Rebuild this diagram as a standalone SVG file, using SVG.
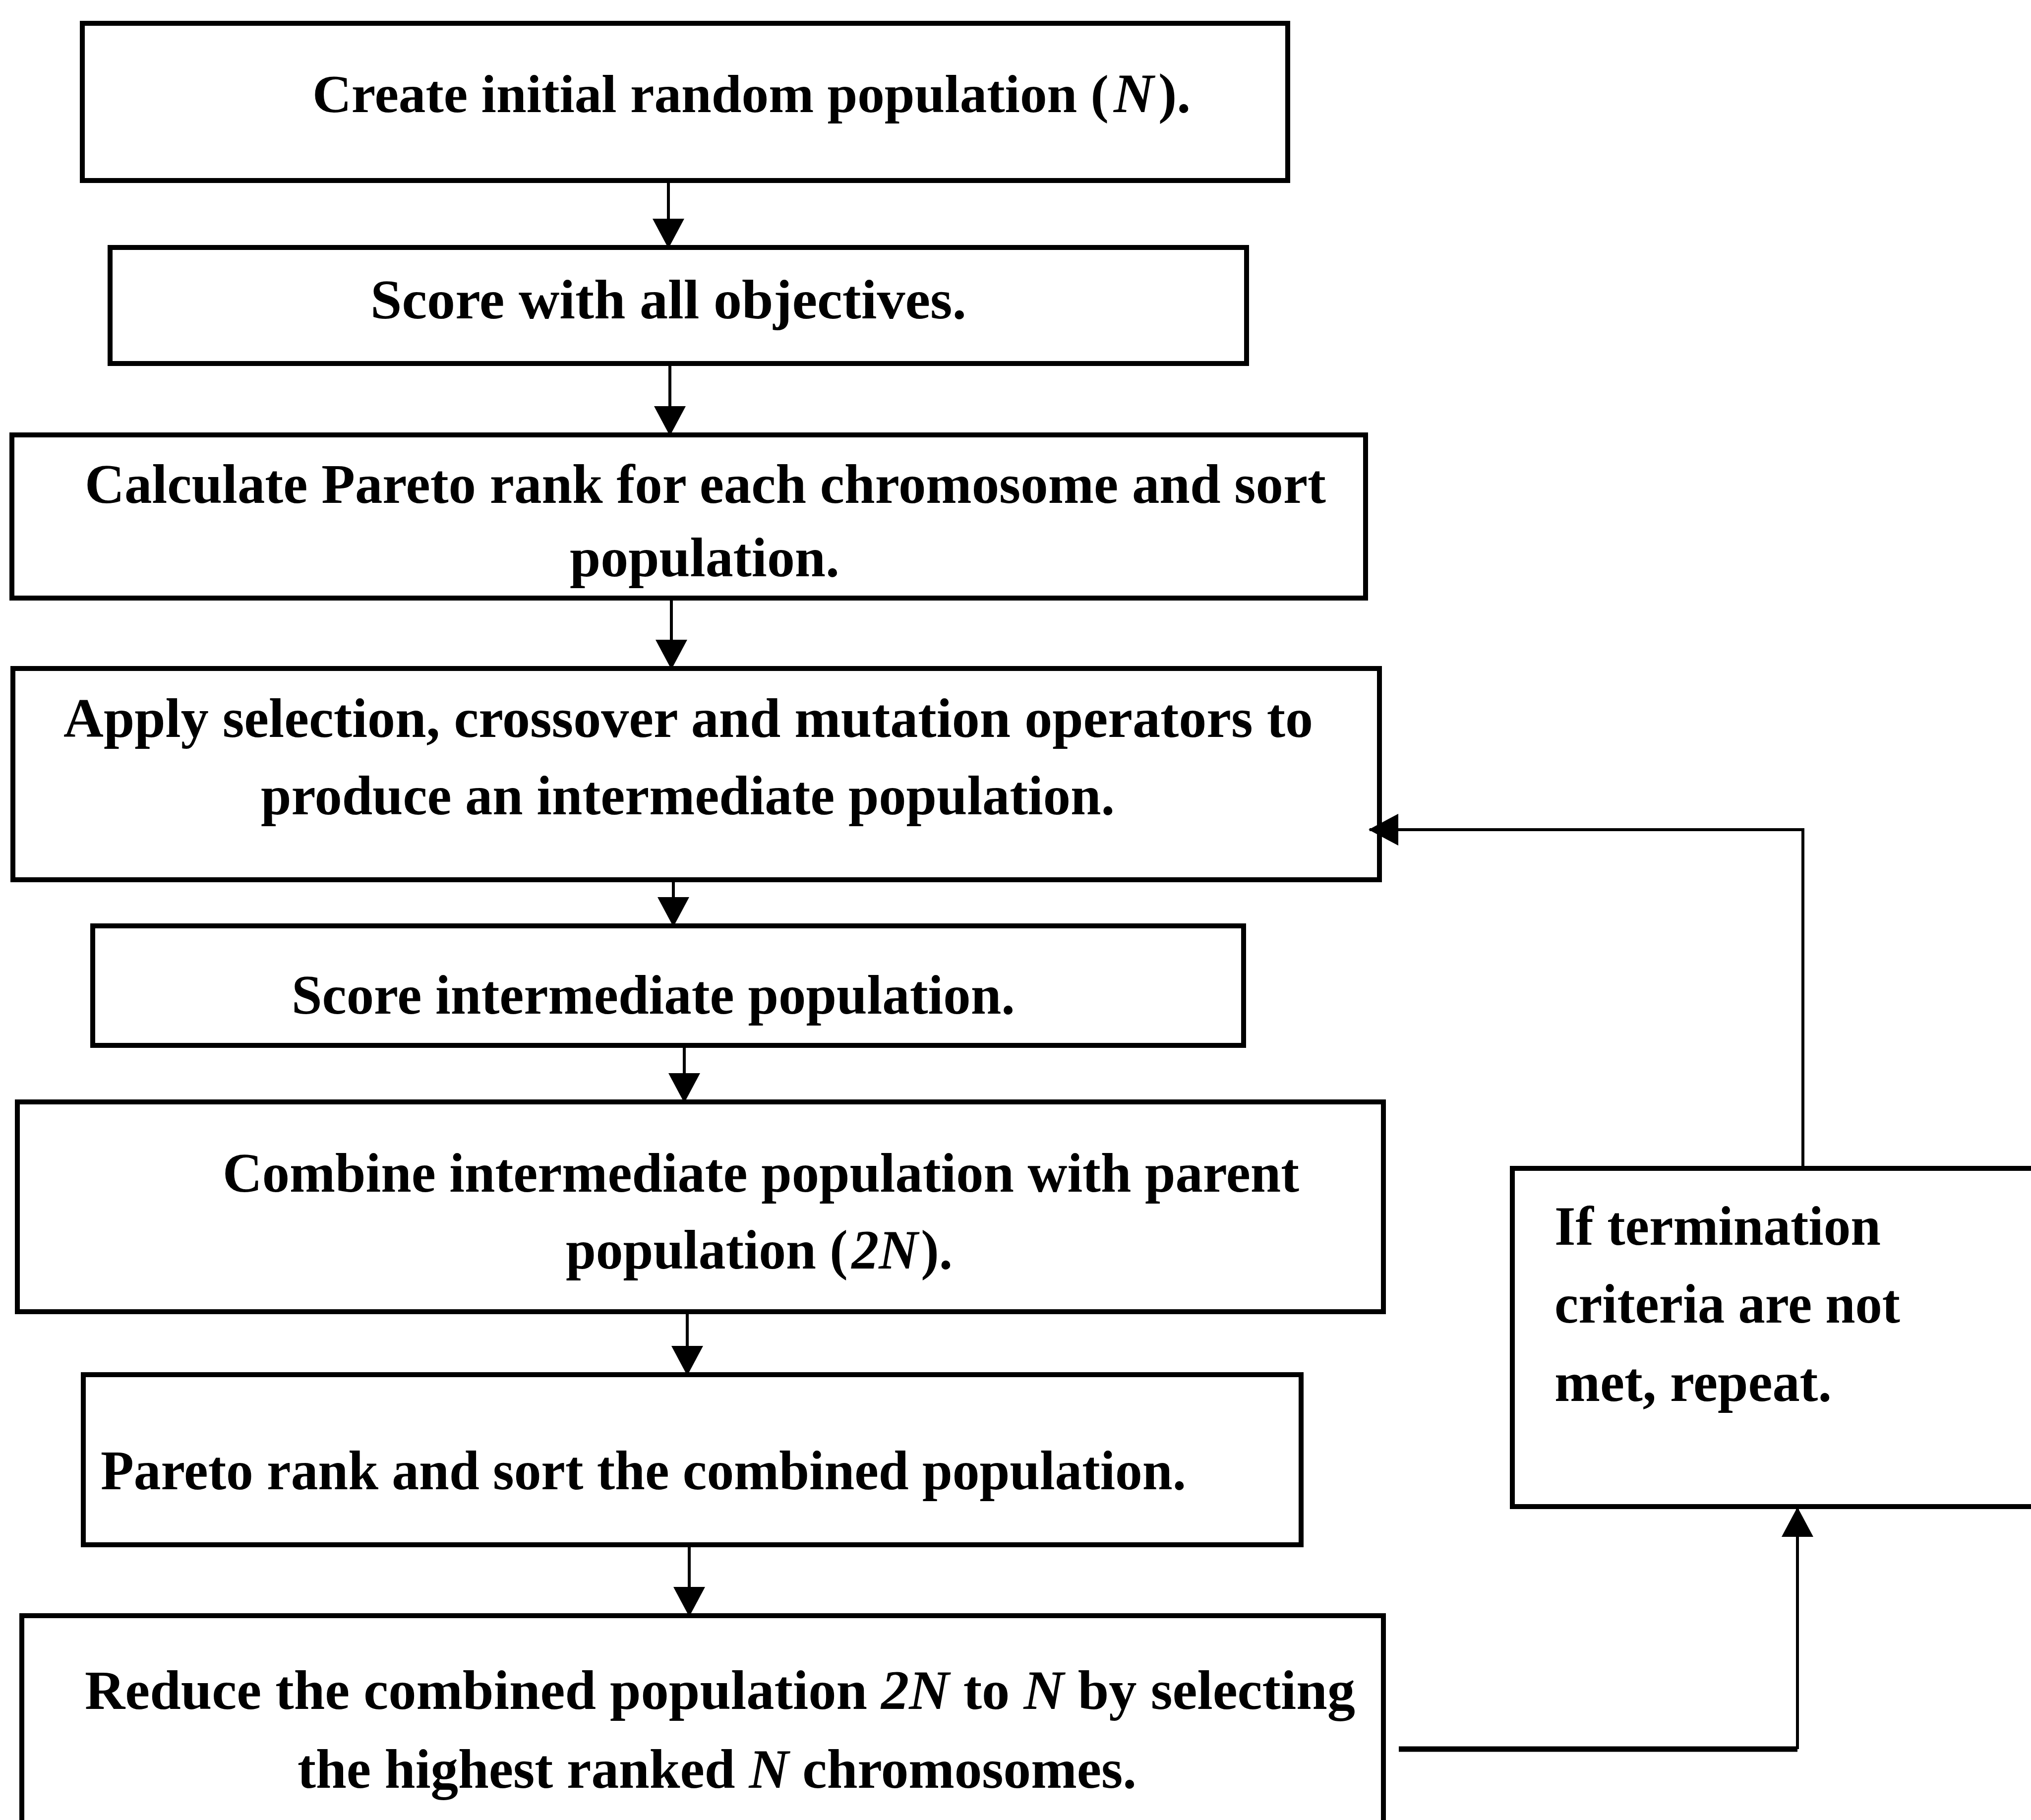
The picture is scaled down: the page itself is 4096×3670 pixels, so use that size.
<svg xmlns="http://www.w3.org/2000/svg" width="4096" height="3670" viewBox="0 0 4096 3670">
<style>
.box{fill:#fff;stroke:#000;stroke-width:10}
.t{font-family:"Liberation Serif","Times New Roman",serif;font-weight:bold;font-size:112px;fill:#000}
.i{font-style:italic}
.c{fill:none;stroke:#000;stroke-width:6}
</style>
<defs>
<marker id="ah" markerUnits="userSpaceOnUse" markerWidth="60" markerHeight="64" viewBox="0 0 60 64" refX="58" refY="32" orient="auto">
<path d="M0,0 L60,32 L0,64 Z" fill="#000"/>
</marker>
</defs>
<rect width="4096" height="3670" fill="#fff"/>
<g id="n1"><rect class="box" x="166" y="47" width="2431" height="317"/>
<text class="t" x="630" y="226" style="font-size:108px" textLength="1606" lengthAdjust="spacingAndGlyphs">Create initial random population (</text>
<text class="t i" x="2246" y="226">N</text>
<text class="t" x="2336" y="226">).</text></g>
<g id="n2"><rect class="box" x="222" y="499" width="2292" height="234"/>
<text class="t" x="747" y="642" textLength="1202" lengthAdjust="spacingAndGlyphs">Score with all objectives.</text></g>
<g id="n3"><rect class="box" x="24" y="877" width="2730" height="329"/>
<text class="t" x="171" y="1014" textLength="2503" lengthAdjust="spacingAndGlyphs">Calculate Pareto rank for each chromosome and sort</text>
<text class="t" x="1149" y="1162" textLength="544" lengthAdjust="spacingAndGlyphs">population.</text></g>
<g id="n4"><rect class="box" x="26" y="1348" width="2756" height="426"/>
<text class="t" x="128" y="1486" textLength="2520" lengthAdjust="spacingAndGlyphs">Apply selection, crossover and mutation operators to</text>
<text class="t" x="526" y="1642" textLength="1722" lengthAdjust="spacingAndGlyphs">produce an intermediate population.</text></g>
<g id="n5"><rect class="box" x="187" y="1867" width="2321" height="241"/>
<text class="t" x="588" y="2044" textLength="1459" lengthAdjust="spacingAndGlyphs">Score intermediate population.</text></g>
<g id="n6"><rect class="box" x="35" y="2222" width="2755" height="423"/>
<text class="t" x="449" y="2403" textLength="2171" lengthAdjust="spacingAndGlyphs">Combine intermediate population with parent</text>
<text class="t" x="1141" y="2558" textLength="780" lengthAdjust="spacingAndGlyphs">population (<tspan class="i" dx="8">2N</tspan><tspan dx="6">).</tspan></text></g>
<g id="n7"><rect class="box" x="168" y="2772" width="2456" height="343"/>
<text class="t" x="203" y="3003" textLength="2189" lengthAdjust="spacingAndGlyphs">Pareto rank and sort the combined population.</text></g>
<g id="n8"><rect class="box" x="44" y="3258" width="2746" height="420"/>
<text class="t" x="171" y="3446" textLength="2562" lengthAdjust="spacingAndGlyphs">Reduce the combined population <tspan class="i">2N</tspan> to <tspan class="i">N</tspan> by selecting</text>
<text class="t" x="600" y="3605" textLength="1692" lengthAdjust="spacingAndGlyphs">the highest ranked <tspan class="i">N</tspan> chromosomes.</text></g>
<g id="n9"><rect class="box" x="3050" y="2356" width="1150" height="682"/>
<text class="t" x="3135" y="2510" textLength="658" lengthAdjust="spacingAndGlyphs">If termination</text>
<text class="t" x="3135" y="2667" textLength="697" lengthAdjust="spacingAndGlyphs">criteria are not</text>
<text class="t" x="3135" y="2825" textLength="559" lengthAdjust="spacingAndGlyphs">met, repeat.</text></g>
<g id="connectors">
<path class="c" d="M1348,364 V499" marker-end="url(#ah)"/>
<path class="c" d="M1351,733 V877" marker-end="url(#ah)"/>
<path class="c" d="M1354,1206 V1348" marker-end="url(#ah)"/>
<path class="c" d="M1358,1774 V1867" marker-end="url(#ah)"/>
<path class="c" d="M1380,2108 V2222" marker-end="url(#ah)"/>
<path class="c" d="M1386,2645 V2772" marker-end="url(#ah)"/>
<path class="c" d="M1390,3115 V3258" marker-end="url(#ah)"/>
<path class="c" d="M2821,3527 H3625" style="stroke-width:11"/>
<path class="c" d="M3625,3527 V3041" marker-end="url(#ah)"/>
<path class="c" d="M3636,2356 V1673 H2762" marker-end="url(#ah)"/>
</g>
</svg>
